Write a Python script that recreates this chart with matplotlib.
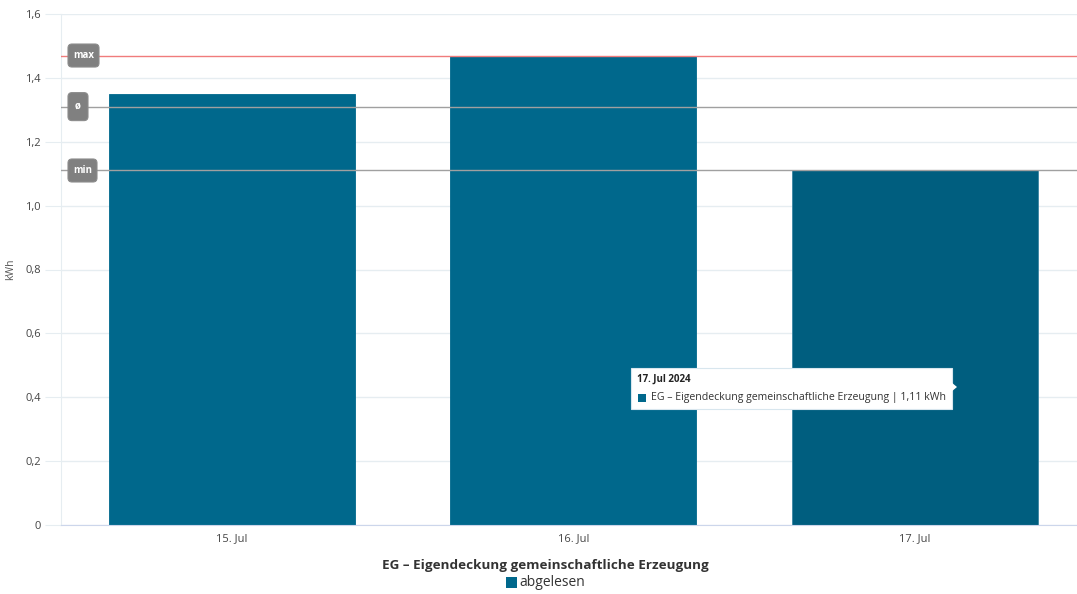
import matplotlib
matplotlib.use("Agg")
import matplotlib.pyplot as plt
from matplotlib.patches import FancyBboxPatch, Rectangle, Polygon
from matplotlib.transforms import IdentityTransform

plt.rcParams['font.family'] = ['Open Sans', 'DejaVu Sans']

categories = ["15. Jul", "16. Jul", "17. Jul"]
values = [1.35, 1.47, 1.11]
y_ticks = [0, 0.2, 0.4, 0.6, 0.8, 1.0, 1.2, 1.4, 1.6]
y_tick_labels = ["0", "0,2", "0,4", "0,6", "0,8", "1,0", "1,2", "1,4", "1,6"]
series_name = "EG – Eigendeckung gemeinschaftliche Erzeugung"
legend_label = "abgelesen"
tooltip_title = "17. Jul 2024"
tooltip_text = "EG – Eigendeckung gemeinschaftliche Erzeugung | 1,11 kWh"

vmax = max(values)
vmin = min(values)
vavg = sum(values) / len(values)

W, H = 1077, 594
fig = plt.figure(figsize=(W / 100, H / 100), dpi=100)
ax_l, ax_r, ax_t, ax_b = 61, 1077, 14, 525
ax = fig.add_axes([ax_l / W, 1 - ax_b / H, (ax_r - ax_l) / W, (ax_b - ax_t) / H])

band = 341.5
xmax = -0.5 + (ax_r - ax_l) / band
ax.set_xlim(-0.5, xmax)
ax.set_ylim(0, 1.6)

colors = ["#00688c", "#00688c", "#005e7f"]
ax.bar(range(len(categories)), values, width=0.72, color=colors, zorder=2,
       edgecolor=["#00688c", "#00688c", "#3b86a3"], linewidth=0.6)

grid_c = "#e6edf1"
ax.set_yticks(y_ticks)
ax.set_yticklabels(y_tick_labels)
ax.yaxis.grid(True, color=grid_c, linewidth=1, zorder=0)
ax.tick_params(axis='y', length=11.5, color=grid_c, pad=3, labelsize=8, labelcolor="#444444")
ax.set_xticks(range(len(categories)))
ax.set_xticklabels(categories)
ax.tick_params(axis='x', length=0, pad=6, labelsize=8, labelcolor="#444444")

for s in ["top", "right"]:
    ax.spines[s].set_visible(False)
ax.spines["left"].set_color("#e6edf1")
ax.spines["bottom"].set_color("#ccd6eb")
ax.set_ylabel("kWh", fontsize=7.5, color="#555555")
ax.yaxis.set_label_coords(-45 / (ax_r - ax_l), 0.5)

# reference lines
ax.axhline(vmax, color="#f07c7c", linewidth=1, zorder=3)
ax.axhline(vavg, color="#a0a0a0", linewidth=1, zorder=3)
ax.axhline(vmin, color="#a0a0a0", linewidth=1, zorder=3)

fig.canvas.draw()

def label_box(y, text, w, h):
    # pixel position of the line
    _, py = ax.transData.transform((0, y))
    px0 = 68
    box = FancyBboxPatch((px0, py - h / 2), w, h,
                         boxstyle="round,pad=0,rounding_size=4",
                         transform=IdentityTransform(),
                         facecolor="#808080", edgecolor="#8c8c8c", linewidth=0.8,
                         zorder=5, clip_on=False)
    fig.add_artist(box)
    fig.text((px0 + w / 2) / W, py / H, text, ha="center", va="center", color="white",
             fontsize=7, fontweight="bold", zorder=6)

label_box(vmax, "max", 31, 23)
label_box(vavg, "ø", 20, 28)
label_box(vmin, "min", 29, 23)

# tooltip (figure pixel coords)
def fx(px):
    return px / W
def fy(py):
    return 1 - py / H

tt = Rectangle((fx(631), fy(409)), (952 - 631) / W, (409 - 368) / H,
               transform=fig.transFigure, facecolor="white", edgecolor="#d8e6ee",
               linewidth=0.8, zorder=10)
fig.add_artist(tt)
tri = Polygon([(fx(951), fy(382)), (fx(957), fy(387)), (fx(951), fy(392))],
              closed=True, transform=fig.transFigure, facecolor="white",
              edgecolor="none", zorder=11)
fig.add_artist(tri)
fig.text(fx(637), fy(379), tooltip_title, fontsize=7, fontweight="bold",
         color="#222222", va="center", ha="left", zorder=12)
sq = Rectangle((fx(638), fy(402)), 8 / W, 8 / H, transform=fig.transFigure,
               facecolor="#00688c", edgecolor="none", zorder=12)
fig.add_artist(sq)
fig.text(fx(651), fy(397.5), tooltip_text, fontsize=7.6, color="#333333",
         va="center", ha="left", zorder=12)

# title and legend
fig.text(fx(545), fy(565), series_name, fontsize=9.7, fontweight="bold",
         color="#333333", ha="center", va="center")
lsq = Rectangle((fx(506), fy(588)), 11 / W, 11 / H, transform=fig.transFigure,
                facecolor="#00688c", edgecolor="none")
fig.add_artist(lsq)
fig.text(fx(519), fy(582), legend_label, fontsize=10, color="#333333",
         ha="left", va="center")

fig.savefig("out.png", dpi=100)
